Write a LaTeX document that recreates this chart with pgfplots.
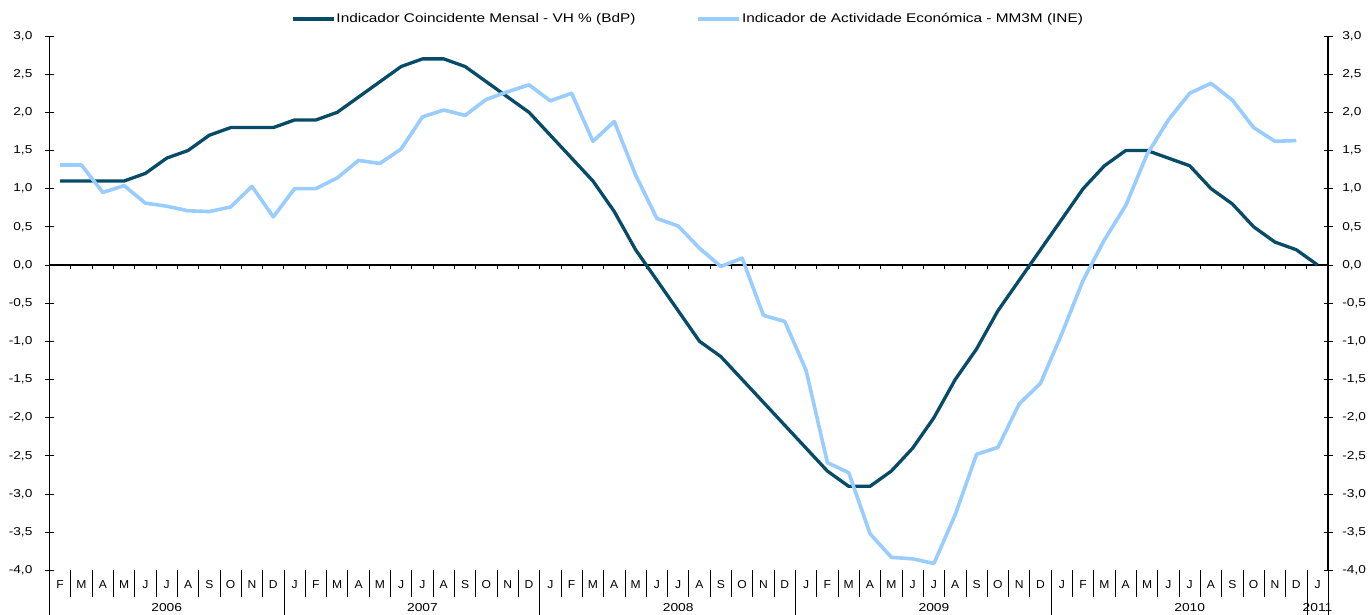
\documentclass[border=0pt]{standalone}
\usepackage{pgfplots}
\pgfplotsset{compat=1.18}
\usepackage{graphicx}
\usepackage{fontspec}
\setmainfont{Liberation Sans}
\definecolor{darkblue}{RGB}{6,75,104}
\definecolor{lightblue}{RGB}{153,204,255}
\newcommand{\lx}[1]{\scalebox{1.22}[1]{#1}}

\pgfplotstableread{
x bdp
0.5 1.1
1.5 1.1
2.5 1.1
3.5 1.1
4.5 1.2
5.5 1.4
6.5 1.5
7.5 1.7
8.5 1.8
9.5 1.8
10.5 1.8
11.5 1.9
12.5 1.9
13.5 2.0
14.5 2.2
15.5 2.4
16.5 2.6
17.5 2.7
18.5 2.7
19.5 2.6
20.5 2.4
21.5 2.2
22.5 2.0
23.5 1.7
24.5 1.4
25.5 1.1
26.5 0.7
27.5 0.2
28.5 -0.2
29.5 -0.6
30.5 -1.0
31.5 -1.2
32.5 -1.5
33.5 -1.8
34.5 -2.1
35.5 -2.4
36.5 -2.7
37.5 -2.9
38.5 -2.9
39.5 -2.7
40.5 -2.4
41.5 -2.0
42.5 -1.5
43.5 -1.1
44.5 -0.6
45.5 -0.2
46.5 0.2
47.5 0.6
48.5 1.0
49.5 1.3
50.5 1.5
51.5 1.5
52.5 1.4
53.5 1.3
54.5 1.0
55.5 0.8
56.5 0.5
57.5 0.3
58.5 0.2
59.5 0.0
}\bdptable

\pgfplotstableread{
x ine
0.5 1.31
1.5 1.31
2.5 0.95
3.5 1.04
4.5 0.81
5.5 0.77
6.5 0.71
7.5 0.70
8.5 0.76
9.5 1.03
10.5 0.63
11.5 1.00
12.5 1.00
13.5 1.14
14.5 1.37
15.5 1.33
16.5 1.52
17.5 1.94
18.5 2.03
19.5 1.96
20.5 2.17
21.5 2.27
22.5 2.36
23.5 2.15
24.5 2.25
25.5 1.62
26.5 1.88
27.5 1.18
28.5 0.61
29.5 0.51
30.5 0.22
31.5 -0.02
32.5 0.09
33.5 -0.66
34.5 -0.74
35.5 -1.38
36.5 -2.59
37.5 -2.72
38.5 -3.52
39.5 -3.83
40.5 -3.85
41.5 -3.91
42.5 -3.27
43.5 -2.48
44.5 -2.39
45.5 -1.82
46.5 -1.55
47.5 -0.90
48.5 -0.20
49.5 0.33
50.5 0.78
51.5 1.45
52.5 1.90
53.5 2.25
54.5 2.38
55.5 2.16
56.5 1.80
57.5 1.62
58.5 1.63
}\inetable

\begin{document}
\begin{tikzpicture}[x=1pt,y=1pt]
\path[use as bounding box] (0,0) rectangle (1371,615);
\pgfplotsset{
  common/.style={
    at={(49.5pt,44.7pt)}, anchor=south west,
    scale only axis, width=1278.8pt, height=534.3pt,
    xmin=0, xmax=60, ymin=-4, ymax=3,
    ytick={-4,-3.5,...,3.01},
    /pgf/number format/.cd, use comma, fixed, fixed zerofill, precision=1, assume math mode=true, /pgfplots/.cd,
    tick align=center,
    major tick length=9pt,
    y axis line style={line width=1.8pt},
    ytick style={line width=0.9pt, black},
  }
}
% Axis 2: right y axis, month labels and separators
\begin{axis}[common,
  clip=false,
  axis y line*=right, axis x line*=bottom,
  yticklabel style={font=\fontsize{11.4}{13}\selectfont, xscale=1.2, anchor=west, xshift=4.5pt},
  x axis line style={draw=none},
  xtick={0.5,1.5,...,59.6},
  xticklabels={F,M,A,M,J,J,A,S,O,N,D,J,F,M,A,M,J,J,A,S,O,N,D,J,F,M,A,M,J,J,A,S,O,N,D,J,F,M,A,M,J,J,A,S,O,N,D,J,F,M,A,M,J,J,A,S,O,N,D,J},
  xticklabel style={font=\fontsize{11.5}{13}\selectfont, xscale=1.05, yshift=2pt},
  major x tick style={draw=none},
  minor xtick={1,...,59},
  minor x tick style={draw=black, line width=0.8pt},
  xtick align=outside,
  minor tick length=27pt,
  extra x ticks={0,11,23,35,47,59,60},
  extra x tick labels={},
  extra x tick style={major tick length=45pt, xtick align=outside, major x tick style={draw=black, line width=0.8pt}},
]
\node[font=\fontsize{11.5}{13}\selectfont, xscale=1.2] at (axis cs:5.5,-4) [yshift=-37pt] {2006};
\node[font=\fontsize{11.5}{13}\selectfont, xscale=1.2] at (axis cs:17.5,-4) [yshift=-37pt] {2007};
\node[font=\fontsize{11.5}{13}\selectfont, xscale=1.2] at (axis cs:29.5,-4) [yshift=-37pt] {2008};
\node[font=\fontsize{11.5}{13}\selectfont, xscale=1.2] at (axis cs:41.5,-4) [yshift=-37pt] {2009};
\node[font=\fontsize{11.5}{13}\selectfont, xscale=1.2] at (axis cs:53.5,-4) [yshift=-37pt] {2010};
\node[font=\fontsize{11.5}{13}\selectfont, xscale=1.2] at (axis cs:59.5,-4) [yshift=-37pt] {2011};
\end{axis}
% Axis 1: left y axis, zero line, data, legend
\begin{axis}[common,
  axis y line*=left, axis x line=none,
  yticklabel style={font=\fontsize{11.4}{13}\selectfont, xscale=1.2, anchor=east, xshift=-7pt},
  legend columns=2,
  legend cell align=left,
  legend image code/.code={\draw[#1] (0pt,0pt) -- (41pt,0pt);},
  legend style={at={(axis description cs:0.18885,1.0318)}, anchor=west, draw=none, fill=none,
    inner sep=0pt, font=\fontsize{12.6}{14}\selectfont,
    nodes={inner sep=1pt},
    /tikz/every even column/.append style={column sep=60pt}},
]
\draw[line width=1.8pt] (axis cs:0,0) -- (axis cs:60,0);
\pgfplotsinvokeforeach{1,...,59}{\draw[line width=0.9pt] (axis cs:#1,0) -- ++(0pt,-4.5pt);}
\addplot[color=darkblue, line width=3.3pt, line join=round] table[x=x,y=bdp] {\bdptable};
\addlegendentry{\lx{Indicador Coincidente Mensal - VH \% (BdP)}}
\addplot[color=lightblue, line width=3.6pt, line join=round] table[x=x,y=ine] {\inetable};
\addlegendentry{\lx{Indicador de Actividade Económica - MM3M (INE)}}
\end{axis}
\end{tikzpicture}
\end{document}
